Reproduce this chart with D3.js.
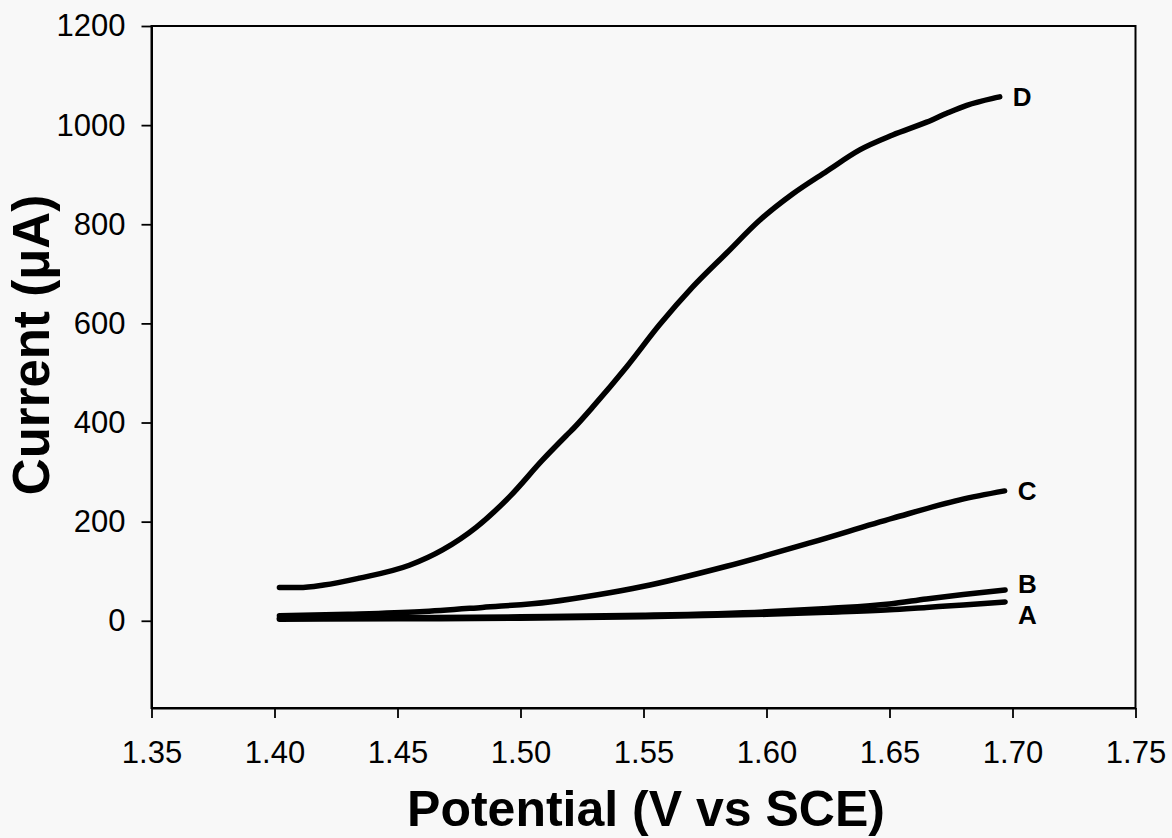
<!DOCTYPE html>
<html><head><meta charset="utf-8">
<script src="https://cdn.jsdelivr.net/npm/d3@7"></script>
<style>body{margin:0;background:#f8f8f8}</style>
</head><body><svg id="c" width="1172" height="838"></svg>
<script>
const xTicks = [1.35, 1.40, 1.45, 1.50, 1.55, 1.60, 1.65, 1.70, 1.75];
const yTicks = [0, 200, 400, 600, 800, 1000, 1200];
const seriesNames = ["A", "B", "C", "D"];

const potA = [1.402, 1.45, 1.50, 1.55, 1.60, 1.625, 1.65, 1.665, 1.68, 1.697];
const curA = [3, 4, 5, 8, 13, 17, 22, 27, 32, 38];
const potB = [1.402, 1.45, 1.50, 1.55, 1.60, 1.625, 1.65, 1.665, 1.68, 1.697];
const curB = [5, 6, 8, 11, 18, 25, 34, 44, 53, 62];
const potC = [1.402, 1.43, 1.459, 1.4845, 1.5118, 1.532, 1.5496, 1.5838, 1.6176, 1.6514, 1.6786, 1.6968];
const curC = [10, 13, 18, 27, 38, 53, 69, 110, 157, 207, 244, 262];
const potD = [1.402, 1.41, 1.42, 1.4345, 1.4548, 1.4683, 1.4821, 1.4955, 1.5089, 1.5195, 1.5215, 1.5293, 1.5431, 1.5565, 1.5699, 1.5838, 1.5972, 1.6106, 1.6245, 1.6379, 1.6513, 1.6651, 1.6733, 1.6814, 1.6920, 1.6948];
const curD = [67, 67, 72, 86, 112, 143, 189, 250, 324, 378, 388, 431, 512, 597, 673, 742, 808, 861, 907, 950, 980, 1006, 1024, 1040, 1054, 1057];

const series = [
  {name: seriesNames[0], pot: potA, cur: curA, dy: 13},
  {name: seriesNames[1], pot: potB, cur: curB, dy: -6},
  {name: seriesNames[2], pot: potC, cur: curC, dy: 0},
  {name: seriesNames[3], pot: potD, cur: curD, dy: 0}
];

const svg = d3.select("#c");
const font = "'Liberation Sans', Arial, sans-serif";
const x = d3.scaleLinear().domain([1.35, 1.75]).range([151.5, 1135.5]);
const y = d3.scaleLinear().domain([-176, 1200]).range([708, 26]);

// frame
svg.append("rect").attr("x", x.range()[0]).attr("y", y.range()[1])
  .attr("width", x.range()[1] - x.range()[0]).attr("height", y.range()[0] - y.range()[1])
  .attr("fill", "none").attr("stroke", "#000").attr("stroke-width", 2);

const xAxis = svg.append("g").attr("transform", `translate(0,${y.range()[0]})`)
  .call(d3.axisBottom(x).tickValues(xTicks).tickFormat(d3.format(".2f")).tickSize(10).tickSizeOuter(0));
const yAxis = svg.append("g").attr("transform", `translate(${x.range()[0]},0)`)
  .call(d3.axisLeft(y).tickValues(yTicks).tickFormat(d3.format("d")).tickSize(10).tickSizeOuter(0));
[xAxis, yAxis].forEach(g => {
  g.select(".domain").attr("stroke", "#000").attr("stroke-width", 2);
  g.selectAll(".tick line").attr("stroke", "#000").attr("stroke-width", 1.8);
  g.selectAll(".tick text").attr("fill", "#000").style("font-family", font).style("font-size", "31px");
});
xAxis.selectAll(".tick text").attr("y", 33);
yAxis.selectAll(".tick text").attr("x", -26);

const line = d3.line().x(d => x(d[0])).y(d => y(d[1])).curve(d3.curveMonotoneX);
series.forEach(s => {
  const pts = s.pot.map((p, i) => [p, s.cur[i]]);
  svg.append("path").attr("d", line(pts)).attr("fill", "none").attr("stroke", "#000")
    .attr("stroke-width", 5.5).attr("stroke-linecap", "round").attr("stroke-linejoin", "round");
  const last = pts[pts.length - 1];
  svg.append("text").attr("x", x(last[0]) + 13).attr("y", y(last[1]) + s.dy)
    .attr("dy", "0.35em").text(s.name)
    .style("font-family", font).style("font-size", "26px").style("font-weight", "bold");
});

svg.append("text").attr("x", 646).attr("y", 826).attr("text-anchor", "middle")
  .text("Potential (V vs SCE)")
  .style("font-family", font).style("font-size", "50px").style("font-weight", "bold");
svg.append("text").attr("transform", "translate(49,345) rotate(-90)").attr("text-anchor", "middle")
  .text("Current (μA)")
  .style("font-family", font).style("font-size", "51px").style("font-weight", "bold");
</script></body></html>
